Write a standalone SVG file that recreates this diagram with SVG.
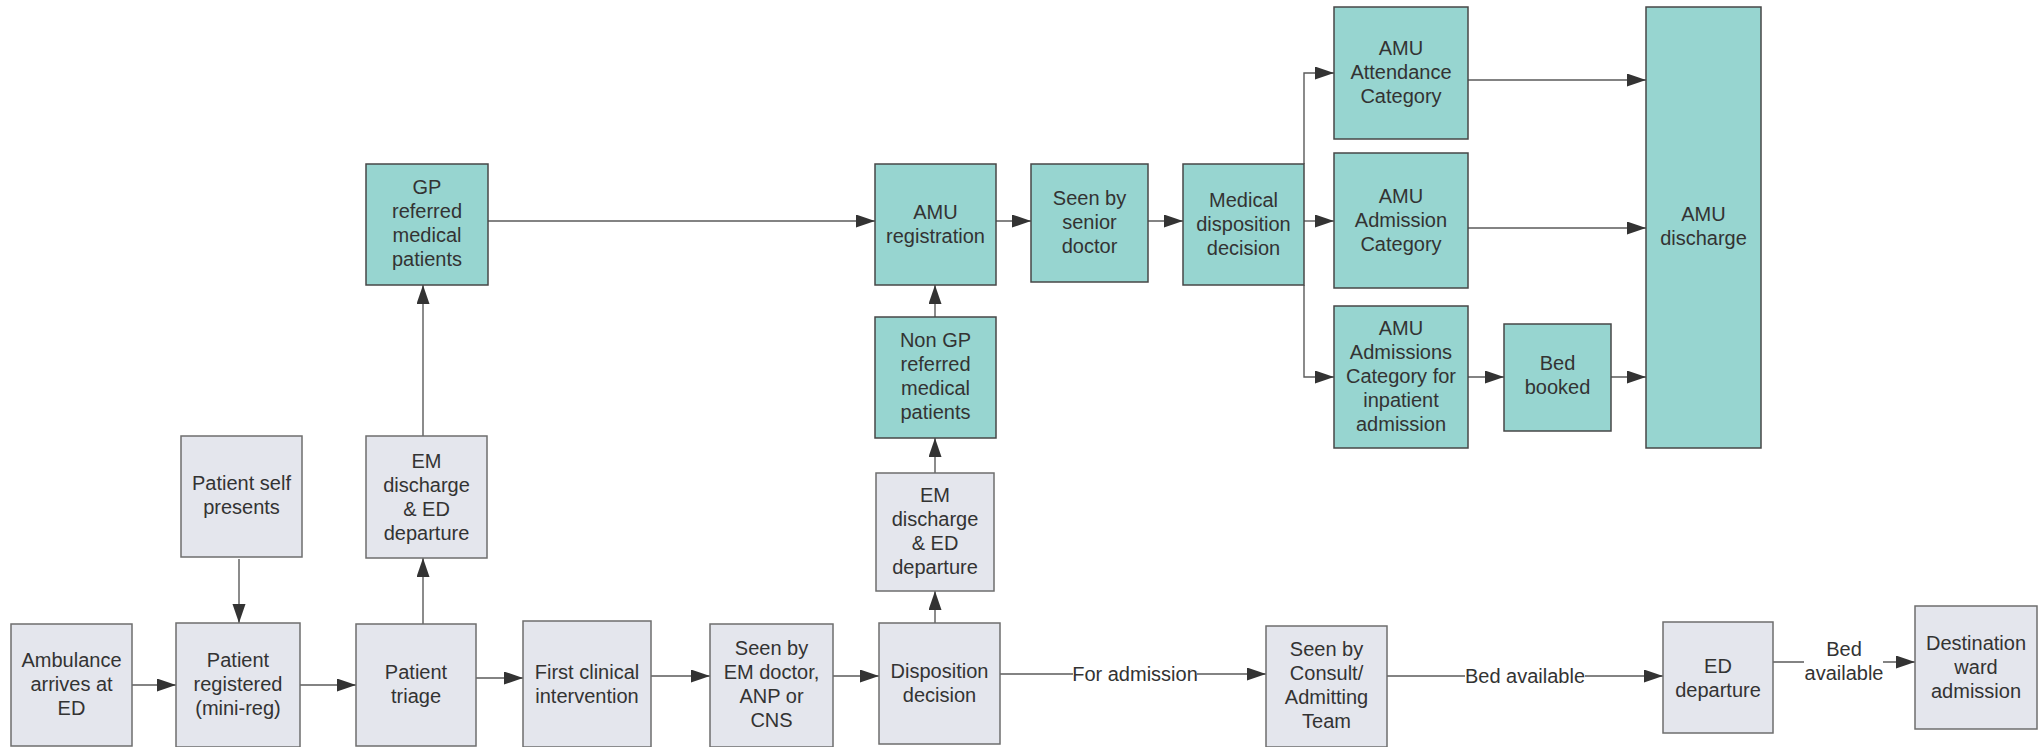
<svg xmlns="http://www.w3.org/2000/svg" width="2042" height="747" viewBox="0 0 2042 747">
<defs>
<marker id="ah" markerUnits="userSpaceOnUse" markerWidth="20" markerHeight="14" refX="19" refY="6.5" orient="auto">
<path d="M0,0 L19,6.5 L0,13 Z" fill="#333333"/>
</marker>
<style>
.g rect{fill:#e4e6ed;stroke:#6e6e6e;stroke-width:1.5}
.t rect{fill:#97d5d0;stroke:#474747;stroke-width:1.5}
text{font-family:"Liberation Sans",Arial,sans-serif;font-size:20px;fill:#333333;text-anchor:middle}
.c line,.c polyline{stroke:#5a5a5a;stroke-width:1.4;fill:none}
.a{marker-end:url(#ah)}
.lbl{fill:#ffffff;stroke:none}
</style>
</defs>
<rect width="2042" height="747" fill="#ffffff"/>

<g id="connectors" class="c">
<line class="a" x1="132" y1="685" x2="176" y2="685"/>
<line class="a" x1="300" y1="685" x2="356" y2="685"/>
<line class="a" x1="476" y1="678" x2="523" y2="678"/>
<line class="a" x1="651" y1="676" x2="710" y2="676"/>
<line class="a" x1="833" y1="676" x2="879" y2="676"/>
<line class="a" x1="1000" y1="674" x2="1266" y2="674"/>
<line class="a" x1="1387" y1="676" x2="1663" y2="676"/>
<line class="a" x1="1773" y1="662" x2="1915" y2="662"/>
<line class="a" x1="239" y1="559" x2="239" y2="623"/>
<line class="a" x1="423" y1="624" x2="423" y2="558"/>
<line class="a" x1="423" y1="436" x2="423" y2="285"/>
<line class="a" x1="488" y1="221" x2="875" y2="221"/>
<line class="a" x1="935" y1="623" x2="935" y2="591"/>
<line class="a" x1="935" y1="473" x2="935" y2="438"/>
<line class="a" x1="935" y1="317" x2="935" y2="285"/>
<line class="a" x1="996" y1="221" x2="1031" y2="221"/>
<line class="a" x1="1148" y1="221" x2="1183" y2="221"/>
<line class="a" x1="1304" y1="221" x2="1334" y2="221"/>
<polyline class="a" points="1304,164 1304,73 1334,73"/>
<polyline class="a" points="1304,285 1304,377 1334,377"/>
<line class="a" x1="1468" y1="80" x2="1646" y2="80"/>
<line class="a" x1="1468" y1="228" x2="1646" y2="228"/>
<line class="a" x1="1468" y1="377" x2="1504" y2="377"/>
<line class="a" x1="1611" y1="377" x2="1646" y2="377"/>
<rect class="lbl" x="1073" y="662" width="124" height="24"/>
<text x="1135" y="681">For admission</text>
<rect class="lbl" x="1465" y="664" width="120" height="24"/>
<text x="1525" y="683">Bed available</text>
<rect class="lbl" x="1804" y="636" width="79" height="50"/>
<text x="1844" y="656">Bed</text>
<text x="1844" y="680">available</text>
</g>

<g id="ambulance" class="g"><rect x="11" y="624" width="121" height="122"/><text x="71.5" y="667">Ambulance</text><text x="71.5" y="691">arrives at</text><text x="71.5" y="715">ED</text></g>
<g id="registered" class="g"><rect x="176" y="623" width="124" height="124"/><text x="238" y="667">Patient</text><text x="238" y="691">registered</text><text x="238" y="715">(mini-reg)</text></g>
<g id="selfpresents" class="g"><rect x="181" y="436" width="121" height="121"/><text x="241.5" y="490">Patient self</text><text x="241.5" y="514">presents</text></g>
<g id="emdischarge1" class="g"><rect x="366" y="436" width="121" height="122"/><text x="426.5" y="468">EM</text><text x="426.5" y="492">discharge</text><text x="426.5" y="516">&amp; ED</text><text x="426.5" y="540">departure</text></g>
<g id="triage" class="g"><rect x="356" y="624" width="120" height="122"/><text x="416" y="679">Patient</text><text x="416" y="703">triage</text></g>
<g id="firstclinical" class="g"><rect x="523" y="621" width="128" height="126"/><text x="587" y="679">First clinical</text><text x="587" y="703">intervention</text></g>
<g id="seenem" class="g"><rect x="710" y="624" width="123" height="123"/><text x="771.5" y="655">Seen by</text><text x="771.5" y="679">EM doctor,</text><text x="771.5" y="703">ANP or</text><text x="771.5" y="727">CNS</text></g>
<g id="disposition" class="g"><rect x="879" y="623" width="121" height="121"/><text x="939.5" y="678">Disposition</text><text x="939.5" y="702">decision</text></g>
<g id="emdischarge2" class="g"><rect x="876" y="473" width="118" height="118"/><text x="935" y="502">EM</text><text x="935" y="526">discharge</text><text x="935" y="550">&amp; ED</text><text x="935" y="574">departure</text></g>
<g id="consult" class="g"><rect x="1266" y="626" width="121" height="121"/><text x="1326.5" y="656">Seen by</text><text x="1326.5" y="680">Consult/</text><text x="1326.5" y="704">Admitting</text><text x="1326.5" y="728">Team</text></g>
<g id="eddeparture" class="g"><rect x="1663" y="622" width="110" height="111"/><text x="1718" y="673">ED</text><text x="1718" y="697">departure</text></g>
<g id="destination" class="g"><rect x="1915" y="606" width="122" height="123"/><text x="1976" y="650">Destination</text><text x="1976" y="674">ward</text><text x="1976" y="698">admission</text></g>

<g id="gpreferred" class="t"><rect x="366" y="164" width="122" height="121"/><text x="427" y="194">GP</text><text x="427" y="218">referred</text><text x="427" y="242">medical</text><text x="427" y="266">patients</text></g>
<g id="amureg" class="t"><rect x="875" y="164" width="121" height="121"/><text x="935.5" y="219">AMU</text><text x="935.5" y="243">registration</text></g>
<g id="nongp" class="t"><rect x="875" y="317" width="121" height="121"/><text x="935.5" y="347">Non GP</text><text x="935.5" y="371">referred</text><text x="935.5" y="395">medical</text><text x="935.5" y="419">patients</text></g>
<g id="seensenior" class="t"><rect x="1031" y="164" width="117" height="118"/><text x="1089.5" y="205">Seen by</text><text x="1089.5" y="229">senior</text><text x="1089.5" y="253">doctor</text></g>
<g id="medicaldisp" class="t"><rect x="1183" y="164" width="121" height="121"/><text x="1243.5" y="207">Medical</text><text x="1243.5" y="231">disposition</text><text x="1243.5" y="255">decision</text></g>
<g id="attendance" class="t"><rect x="1334" y="7" width="134" height="132"/><text x="1401" y="55">AMU</text><text x="1401" y="79">Attendance</text><text x="1401" y="103">Category</text></g>
<g id="admission" class="t"><rect x="1334" y="153" width="134" height="135"/><text x="1401" y="203">AMU</text><text x="1401" y="227">Admission</text><text x="1401" y="251">Category</text></g>
<g id="inpatient" class="t"><rect x="1334" y="306" width="134" height="142"/><text x="1401" y="335">AMU</text><text x="1401" y="359">Admissions</text><text x="1401" y="383">Category for</text><text x="1401" y="407">inpatient</text><text x="1401" y="431">admission</text></g>
<g id="bedbooked" class="t"><rect x="1504" y="324" width="107" height="107"/><text x="1557.5" y="370">Bed</text><text x="1557.5" y="394">booked</text></g>
<g id="amudischarge" class="t"><rect x="1646" y="7" width="115" height="441"/><text x="1703.5" y="221">AMU</text><text x="1703.5" y="245">discharge</text></g>
</svg>
